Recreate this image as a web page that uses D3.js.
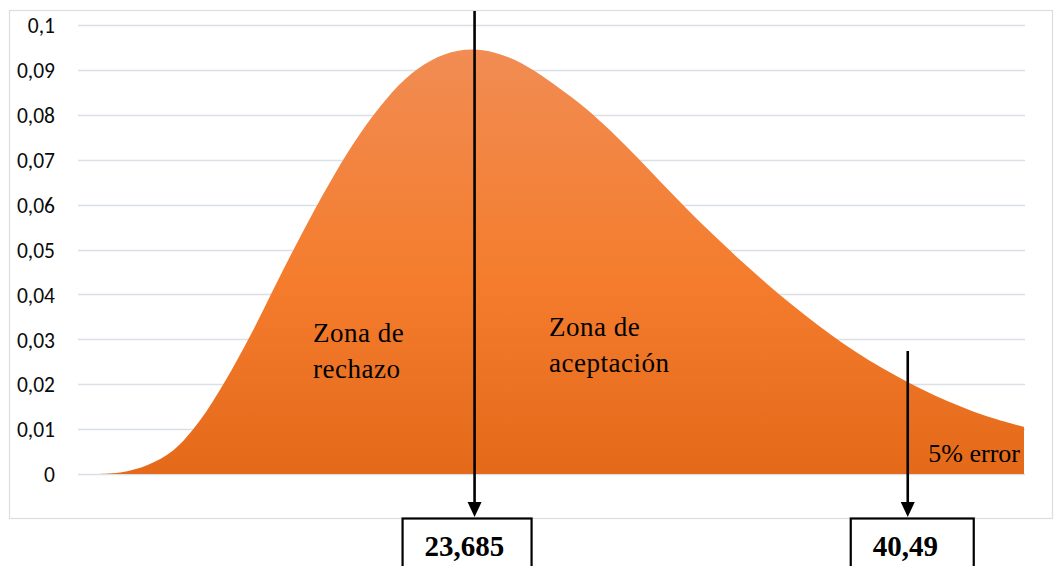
<!DOCTYPE html>
<html>
<head>
<meta charset="utf-8">
<script src="https://cdn.jsdelivr.net/npm/d3@7"></script>
<style>
  html, body { margin: 0; padding: 0; background: #ffffff; }
  svg { display: block; }
</style>
</head>
<body>
<svg id="chart" width="1057" height="566"></svg>
<script>
// Density curve of the test statistic
const xValues = [9, 10, 11, 12, 13, 14, 15, 16, 17, 18, 19, 20, 21, 22, 23, 24, 25, 26, 27,
                 28, 29, 30, 31, 32, 33, 34, 35, 36, 37, 38, 39, 40, 41, 42, 43, 44, 45];
const density = [0.0000, 0.0004, 0.0020, 0.0053, 0.0117, 0.0206, 0.0310, 0.0425, 0.0537,
                 0.0642, 0.0737, 0.0817, 0.0880, 0.0921, 0.0942, 0.0944, 0.0928, 0.0898,
                 0.0858, 0.0814, 0.0762, 0.0705, 0.0645, 0.0586, 0.0530, 0.0476, 0.0425,
                 0.0377, 0.0332, 0.0290, 0.0253, 0.0220, 0.0190, 0.0163, 0.0140, 0.0121, 0.0105];

// Y axis ticks
const yTicks = [0, 0.01, 0.02, 0.03, 0.04, 0.05, 0.06, 0.07, 0.08, 0.09, 0.1];

// Reference values marked with arrows
const markValues = [23.685, 40.49];

// Region annotations
const zoneLabels = [["Zona de", "rechazo"], ["Zona de", "aceptación"]];
const tailLabel = "5% error";

const svg = d3.select("#chart");

const plot = { left: 78, right: 1024, top: 25, bottom: 474 };

const x = d3.scaleLinear().domain([8.3, 45]).range([plot.left, plot.right]);
const y = d3.scaleLinear().domain([0, 0.1]).range([plot.bottom, plot.top]);

const locale = d3.formatLocale({ decimal: ",", thousands: ".", grouping: [3], currency: ["", "€"] });
const fmt = locale.format(".2~f");

// Outer chart frame
svg.append("rect")
  .attr("x", 9.5).attr("y", 10.5)
  .attr("width", 1043).attr("height", 508)
  .attr("fill", "none")
  .attr("stroke", "#dadee4")
  .attr("stroke-width", 1.2);

// Gridlines
svg.append("g")
  .selectAll("line")
  .data(yTicks)
  .join("line")
  .attr("x1", plot.left).attr("x2", plot.right + 1)
  .attr("y1", d => Math.round(y(d)) + 0.5)
  .attr("y2", d => Math.round(y(d)) + 0.5)
  .attr("stroke", "#dbe0e6")
  .attr("stroke-width", 1.3);

// Y axis labels
const yAxis = d3.axisLeft(y).tickValues(yTicks).tickFormat(fmt).tickSize(0).tickPadding(0);
const yg = svg.append("g")
  .attr("transform", `translate(55,0)`)
  .call(yAxis);
yg.select(".domain").remove();
yg.selectAll("text")
  .attr("font-family", "Carlito, Calibri, Lato, sans-serif")
  .attr("font-size", 21.5)
  .attr("fill", "#0a0a0a")
  .attr("dy", "0.36em");

// Gradient fill for the area
const defs = svg.append("defs");
const grad = defs.append("linearGradient")
  .attr("id", "orangeFill")
  .attr("x1", 0).attr("y1", 0).attr("x2", 0).attr("y2", 1);
grad.append("stop").attr("offset", "0%").attr("stop-color", "#f18c53");
grad.append("stop").attr("offset", "55%").attr("stop-color", "#f47c2c");
grad.append("stop").attr("offset", "100%").attr("stop-color", "#e46a1a");

const series = xValues.map((v, i) => ({ x: v, y: density[i] }));

const area = d3.area()
  .x(d => x(d.x))
  .y0(y(0))
  .y1(d => y(d.y))
  .curve(d3.curveCatmullRom.alpha(0.5));

svg.append("path")
  .datum(series)
  .attr("d", area)
  .attr("fill", "url(#orangeFill)");

// Annotation text
const serif = "'Liberation Serif', 'Times New Roman', serif";
const zonePos = [{ x: 313, y: 342 }, { x: 549, y: 336 }];
zoneLabels.forEach((lines, i) => {
  const t = svg.append("text")
    .attr("font-family", serif)
    .attr("font-size", 27)
    .attr("letter-spacing", 0.5)
    .attr("fill", "#000");
  lines.forEach((ln, j) => {
    t.append("tspan")
      .attr("x", zonePos[i].x)
      .attr("y", zonePos[i].y + j * 35.5)
      .text(ln);
  });
});

svg.append("text")
  .attr("x", 1020).attr("y", 462)
  .attr("text-anchor", "end")
  .attr("font-family", serif)
  .attr("font-size", 26)
  .attr("fill", "#000")
  .attr("xml:space", "preserve")
  .text(tailLabel);

// Arrows and value boxes
const arrowTop = [11, 351];
const tipY = 517;
const headH = 15, headW = 7;
const boxOffset = [{ l: -72, r: 57 }, { l: -57, r: 66 }];

markValues.forEach((v, i) => {
  const cx = x(v);
  svg.append("line")
    .attr("x1", cx).attr("x2", cx)
    .attr("y1", arrowTop[i]).attr("y2", tipY - headH + 1)
    .attr("stroke", "#000")
    .attr("stroke-width", 2.6);
  svg.append("path")
    .attr("d", `M${cx},${tipY} L${cx - headW},${tipY - headH} L${cx + headW},${tipY - headH} Z`)
    .attr("fill", "#000");

  const bx = cx + boxOffset[i].l;
  const bw = boxOffset[i].r - boxOffset[i].l;
  svg.append("rect")
    .attr("x", bx).attr("y", 518.5)
    .attr("width", bw).attr("height", 70)
    .attr("fill", "#fff")
    .attr("stroke", "#000")
    .attr("stroke-width", 2.2);
  svg.append("text")
    .attr("x", bx + 22).attr("y", 556)
    .attr("font-family", serif)
    .attr("font-weight", "bold")
    .attr("font-size", 29)
    .attr("fill", "#000")
    .text(String(v).replace(".", ","));
});
</script>
</body>
</html>
